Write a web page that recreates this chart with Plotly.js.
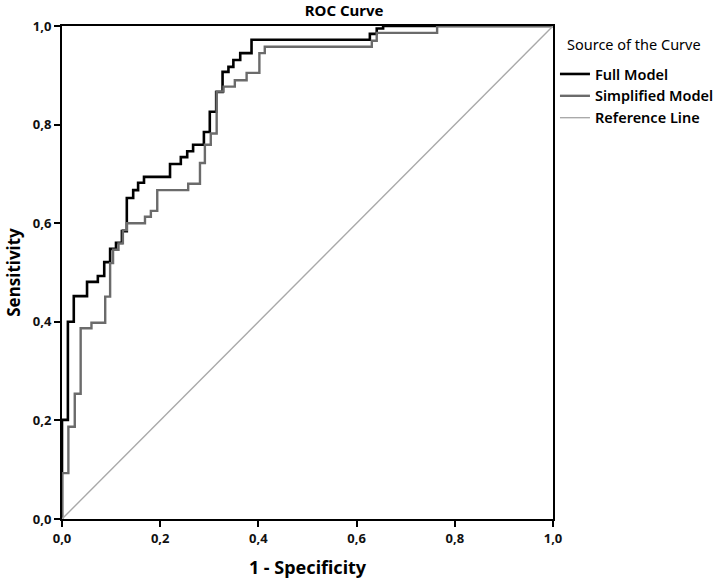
<!DOCTYPE html>
<html>
<head>
<meta charset="utf-8">
<script src="https://cdn.plot.ly/plotly-3.0.1.min.js"></script>
<style>html,body{margin:0;padding:0;background:#fff}#chart{width:717px;height:582px}</style>
</head>
<body>
<div id="chart"></div>
<script>
// Full Model ROC step corners (1 - specificity, sensitivity)
const fullFpr = [0, 0.012, 0.024, 0.051, 0.073, 0.086, 0.098, 0.110, 0.122, 0.132, 0.145, 0.155, 0.167, 0.220, 0.242, 0.255, 0.267, 0.289, 0.301, 0.314, 0.327, 0.339, 0.349, 0.363, 0.386, 0.627, 0.641, 0.654, 1.0];
const fullTpr = [0, 0.201, 0.400, 0.452, 0.481, 0.493, 0.521, 0.548, 0.560, 0.584, 0.651, 0.667, 0.682, 0.694, 0.720, 0.734, 0.746, 0.759, 0.785, 0.826, 0.866, 0.907, 0.917, 0.931, 0.945, 0.972, 0.984, 0.995, 1.0];
// Simplified Model ROC step corners
const simpFpr = [0, 0.013, 0.026, 0.038, 0.060, 0.088, 0.098, 0.104, 0.115, 0.124, 0.132, 0.169, 0.181, 0.194, 0.257, 0.281, 0.291, 0.303, 0.315, 0.329, 0.352, 0.376, 0.402, 0.413, 0.631, 0.641, 0.764, 1.0];
const simpTpr = [0, 0.093, 0.187, 0.254, 0.387, 0.398, 0.451, 0.519, 0.546, 0.559, 0.586, 0.600, 0.613, 0.625, 0.667, 0.680, 0.722, 0.759, 0.782, 0.867, 0.877, 0.890, 0.905, 0.945, 0.958, 0.970, 0.986, 1.0];
// Reference line
const refX = [0, 1];
const refY = [0, 1];
const tickVals = [0, 0.2, 0.4, 0.6, 0.8, 1.0];
const tickText = ["0,0", "0,2", "0,4", "0,6", "0,8", "1,0"];
const legendTitle = "Source of the Curve";

const FONT = "Noto Sans, Open Sans, DejaVu Sans, sans-serif";

const traces = [
  {x: fullFpr, y: fullTpr, name: "Full Model", mode: "lines", line: {color: "#000000", width: 2.6, shape: "vh"}},
  {x: simpFpr, y: simpTpr, name: "Simplified Model", mode: "lines", line: {color: "#6b6b6b", width: 2.4, shape: "vh"}},
  {x: refX, y: refY, name: "Reference Line", mode: "lines", line: {color: "#a9a9a9", width: 1.4}}
];

const axisCommon = {
  range: [0, 1],
  tickvals: tickVals,
  ticktext: tickText,
  ticks: "outside",
  ticklen: 6,
  tickwidth: 2,
  tickcolor: "#000",
  showline: true,
  linewidth: 2,
  linecolor: "#000",
  mirror: true,
  showgrid: false,
  zeroline: false,
  tickfont: {family: FONT, size: 13, color: "#111", weight: "bold"}
};

const layout = {
  width: 717,
  height: 582,
  margin: {l: 62, r: 164, t: 26, b: 63, autoexpand: false},
  paper_bgcolor: "#fff",
  plot_bgcolor: "#fff",
  title: {text: "ROC Curve", font: {family: FONT, size: 15, color: "#000", weight: "bold"}, x: 0.48, xanchor: "center", y: 0.982, yanchor: "middle"},
  xaxis: Object.assign({}, axisCommon, {automargin: false, title: {text: "1 - Specificity", font: {family: FONT, size: 18, color: "#000", weight: "bold"}, standoff: 16}}),
  yaxis: Object.assign({}, axisCommon, {automargin: false, title: {text: "Sensitivity", font: {family: FONT, size: 17, color: "#000", weight: "bold"}, standoff: 8}}),
  showlegend: true,
  legend: {
    x: 1.004, xanchor: "left", y: 0.935, yanchor: "top",
    font: {family: FONT, size: 14.5, color: "#000", weight: 600},
    tracegroupgap: 0,
    itemwidth: 30,
    bgcolor: "rgba(0,0,0,0)"
  },
  annotations: [{
    text: legendTitle, xref: "paper", yref: "paper", x: 1.025, y: 0.963,
    xanchor: "left", yanchor: "middle", showarrow: false,
    font: {family: FONT, size: 14.5, color: "#000"}
  }]
};

Plotly.newPlot("chart", traces, layout, {displayModeBar: false, staticPlot: true});
</script>
</body>
</html>
